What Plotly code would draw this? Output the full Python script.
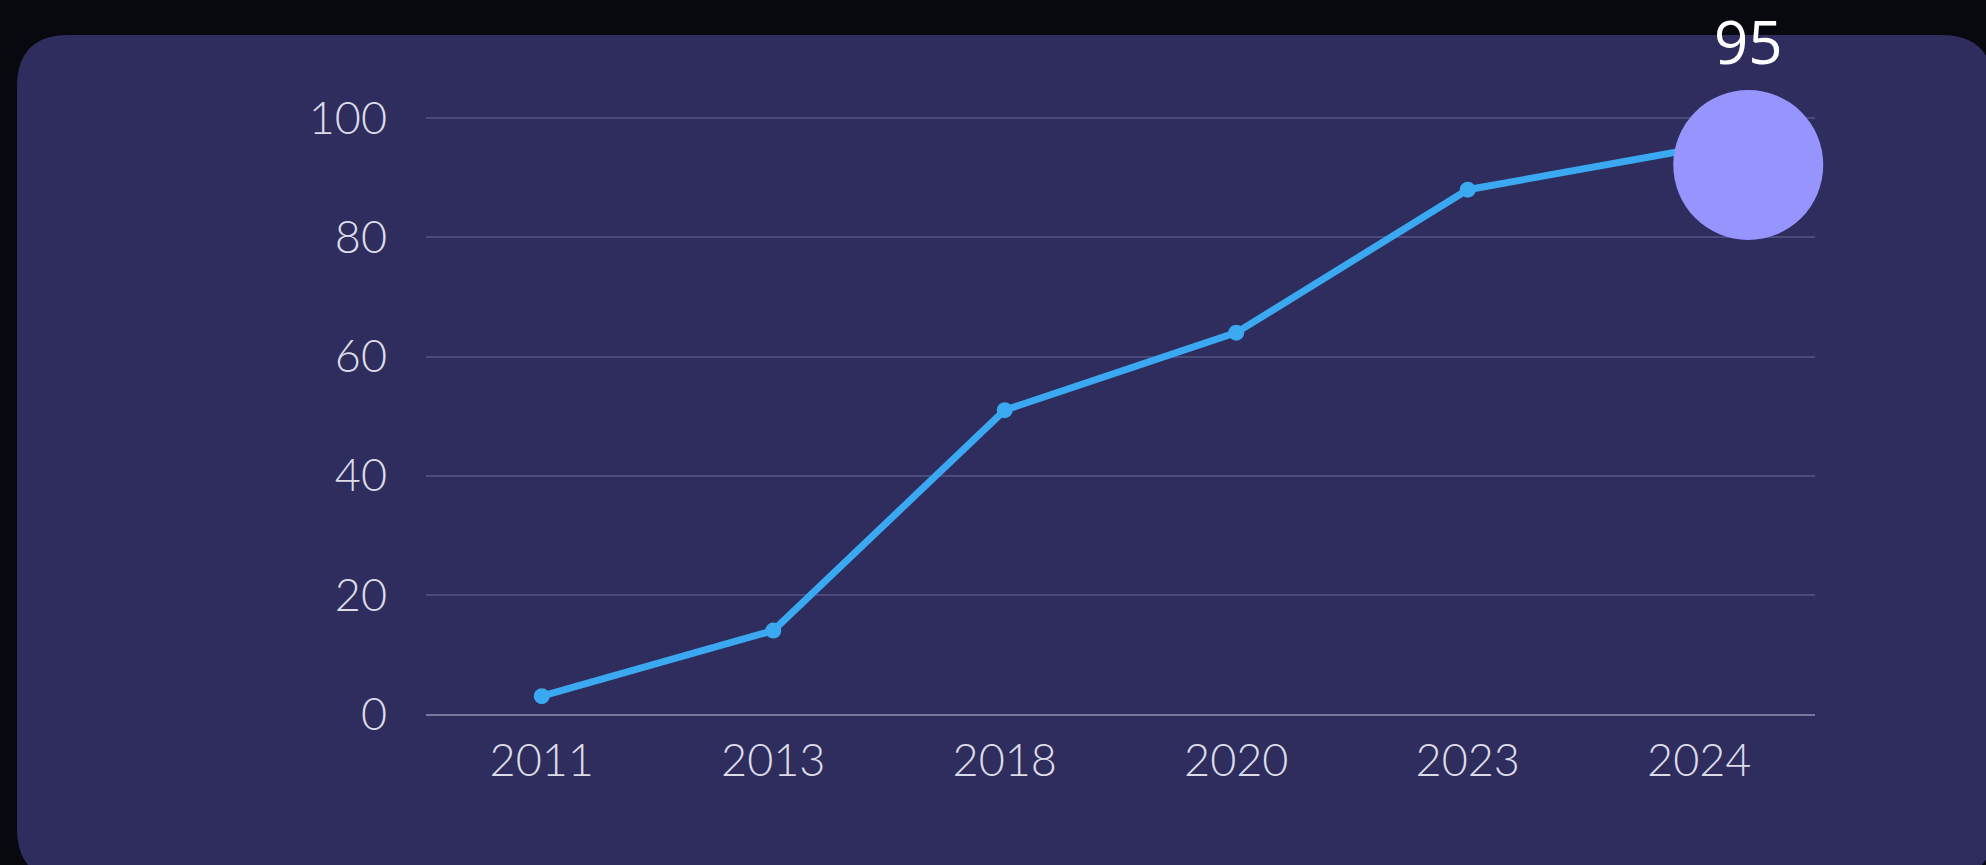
import plotly.graph_objects as go

# ---- data ----
years = ["2011", "2013", "2018", "2020", "2023", "2024"]
values = [3, 14, 51, 64, 88, 95]
y_ticks = [0, 20, 40, 60, 80, 100]
highlight_label = "95"

# ---- layout constants (pixels) ----
W, H = 1986, 865
ML, MR, MT, MB = 426, 171, 117, 151
PW, PH = W - ML - MR, H - MT - MB

OUTER_BG = "#08080f"
CARD_BG = "#2e2d5e"
LINE_COLOR = "#3aa9f1"
BUBBLE_COLOR = "#9694fd"
TEXT_COLOR = "#dcdce8"
GRID_COLOR = "#4a4a7c"
ZERO_COLOR = "#77779c"

xs = list(range(len(years)))
X_RANGE = [-0.5, len(years) - 0.5]
Y_RANGE = [0, 100.2]

fig = go.Figure()
fig.add_trace(go.Scatter(
    x=xs, y=values, mode="lines+markers",
    line=dict(color=LINE_COLOR, width=7),
    marker=dict(color=LINE_COLOR, size=16),
    hoverinfo="skip", showlegend=False,
))

def px_to_paper_x(px):
    return (px - ML) / PW

def px_to_paper_y(py):
    return (H - MB - py) / PH

# rounded card behind the chart
cx0, cy0, cx1, cy1, r = 17, 35, 1993, 880, 52
def P(x, y):
    return f"{px_to_paper_x(x):.5f},{px_to_paper_y(y):.5f}"
path = (
    f"M {P(cx0 + r, cy0)} L {P(cx1 - r, cy0)} Q {P(cx1, cy0)} {P(cx1, cy0 + r)} "
    f"L {P(cx1, cy1 - r)} Q {P(cx1, cy1)} {P(cx1 - r, cy1)} "
    f"L {P(cx0 + r, cy1)} Q {P(cx0, cy1)} {P(cx0, cy1 - r)} "
    f"L {P(cx0, cy0 + r)} Q {P(cx0, cy0)} {P(cx0 + r, cy0)} Z"
)
fig.add_shape(type="path", path=path, xref="paper", yref="paper",
              fillcolor=CARD_BG, line=dict(width=0), layer="below")

# highlight bubble anchored at last data point (converted to paper coords so
# it is not clipped by the plot area), offset in pixels
last_x, last_y = xs[-1], values[-1]
ax_px = (last_x - X_RANGE[0]) / (X_RANGE[1] - X_RANGE[0])
ay_py = (last_y - Y_RANGE[0]) / (Y_RANGE[1] - Y_RANGE[0])
br = 75
dx, dy = 49, -17
fig.add_shape(type="circle", xref="paper", yref="paper",
              xsizemode="pixel", ysizemode="pixel",
              xanchor=ax_px, yanchor=ay_py,
              x0=dx - br, x1=dx + br, y0=dy - br, y1=dy + br,
              fillcolor=BUBBLE_COLOR, line=dict(width=0), layer="above")

fig.add_annotation(x=last_x, y=last_y, xref="x", yref="y",
                   text=highlight_label, showarrow=False,
                   xshift=49, yshift=107,
                   font=dict(family="Open Sans", size=60, color="#ffffff"))

fig.update_xaxes(
    range=X_RANGE,
    tickmode="array", tickvals=xs, ticktext=years,
    showgrid=False, zeroline=False,
    showline=True, linecolor=ZERO_COLOR, linewidth=2,
    ticks="outside", ticklen=0, ticklabelstandoff=6,
    tickfont=dict(family="Lato", size=45, color=TEXT_COLOR, weight=300),
)
fig.update_yaxes(
    range=Y_RANGE,
    tickmode="array", tickvals=y_ticks,
    showgrid=True, gridcolor=GRID_COLOR, gridwidth=2,
    zeroline=False, showline=False,
    ticks="outside", ticklen=0, ticklabelstandoff=29,
    tickfont=dict(family="Lato", size=45, color=TEXT_COLOR, weight=300),
)

fig.update_layout(
    width=W, height=H,
    margin=dict(l=ML, r=MR, t=MT, b=MB, pad=0),
    paper_bgcolor=OUTER_BG, plot_bgcolor="rgba(0,0,0,0)",
    showlegend=False,
)

fig.write_html("out.html")
